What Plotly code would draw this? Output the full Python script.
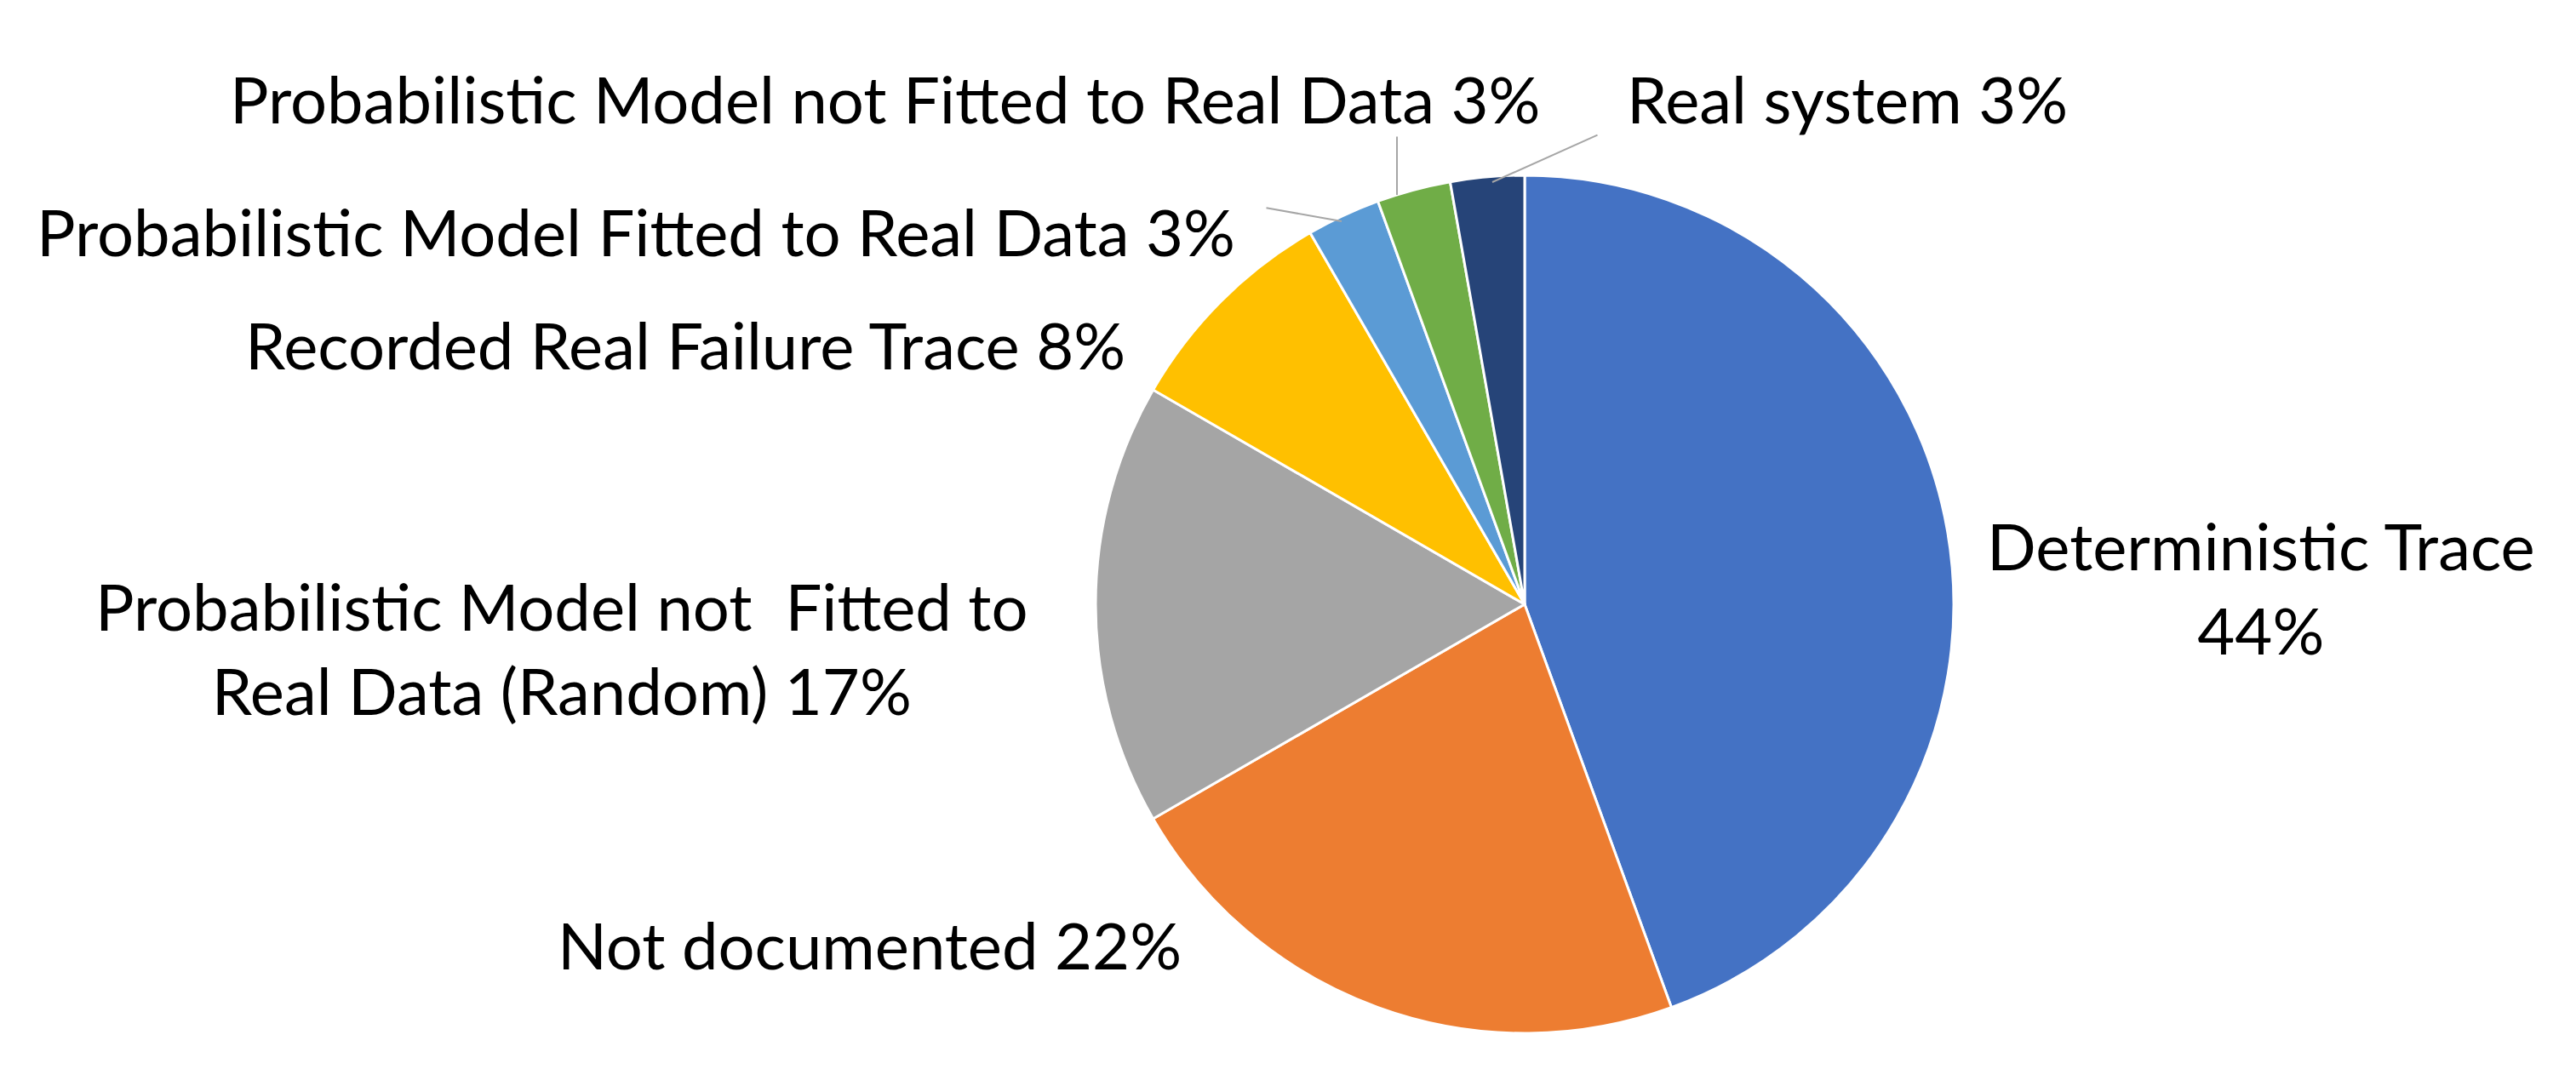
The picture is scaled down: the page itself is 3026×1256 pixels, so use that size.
"""Pie chart of failure-model sources."""
import plotly.graph_objects as go

W, H = 3026, 1256

categories = [
    "Deterministic Trace",
    "Not documented",
    "Probabilistic Model not  Fitted to<br>Real Data (Random)",
    "Recorded Real Failure Trace",
    "Probabilistic Model Fitted to Real Data",
    "Probabilistic Model not Fitted to Real Data",
    "Real system",
]
counts = [16, 8, 6, 3, 1, 1, 1]
colors = ["#4472C4", "#ED7D31", "#A5A5A5", "#FFC000", "#5B9BD5", "#70AD47", "#264478"]
# break before the percentage for the big slice
sep = ["<br>", " ", " ", " ", " ", " ", " "]

# label centres (px) and leader lines (tip px, tail px) -- layout only
label_pos = [(2648, 682), (1013, 1101), (652, 753), (797, 397), (739, 264), (1032, 108), (2162, 108)]
leaders = {4: ((1568, 252), (1478, 236)), 5: ((1633, 221), (1633, 151)), 6: ((1745, 206), (1870, 150))}

total = sum(counts)
pct = [round(100 * c / total) for c in counts]

fig = go.Figure(go.Pie(
    labels=[c.replace("<br>", " ") for c in categories], values=counts,
    sort=False, direction="clockwise", rotation=0,
    marker=dict(colors=colors, line=dict(color="white", width=3)),
    textinfo="none", hoverinfo="label+percent",
    domain=dict(x=[1278 / W, 2288 / W], y=[1 - 1206 / H, 1 - 198 / H]),
))

font = dict(family="Lato, 'Open Sans', sans-serif", size=76, color="black")
for i, (name, p) in enumerate(zip(categories, pct)):
    x, y = label_pos[i]
    fig.add_annotation(x=x / W, y=1 - y / H, xref="paper", yref="paper",
                       text=f"{name}{sep[i]}{p}%", showarrow=False,
                       xanchor="center", yanchor="middle", font=font)

for i, (tip, tail) in leaders.items():
    fig.add_annotation(x=tip[0] / W, y=1 - tip[1] / H, xref="paper", yref="paper",
                       ax=tail[0] - tip[0], ay=tail[1] - tip[1], text="",
                       showarrow=True, arrowhead=0, arrowwidth=2, arrowcolor="#A6A6A6",
                       standoff=0, startstandoff=0)

fig.update_layout(width=W, height=H, margin=dict(l=0, r=0, t=0, b=0),
                  showlegend=False, paper_bgcolor="white", plot_bgcolor="white")
fig.write_html("out.html")
